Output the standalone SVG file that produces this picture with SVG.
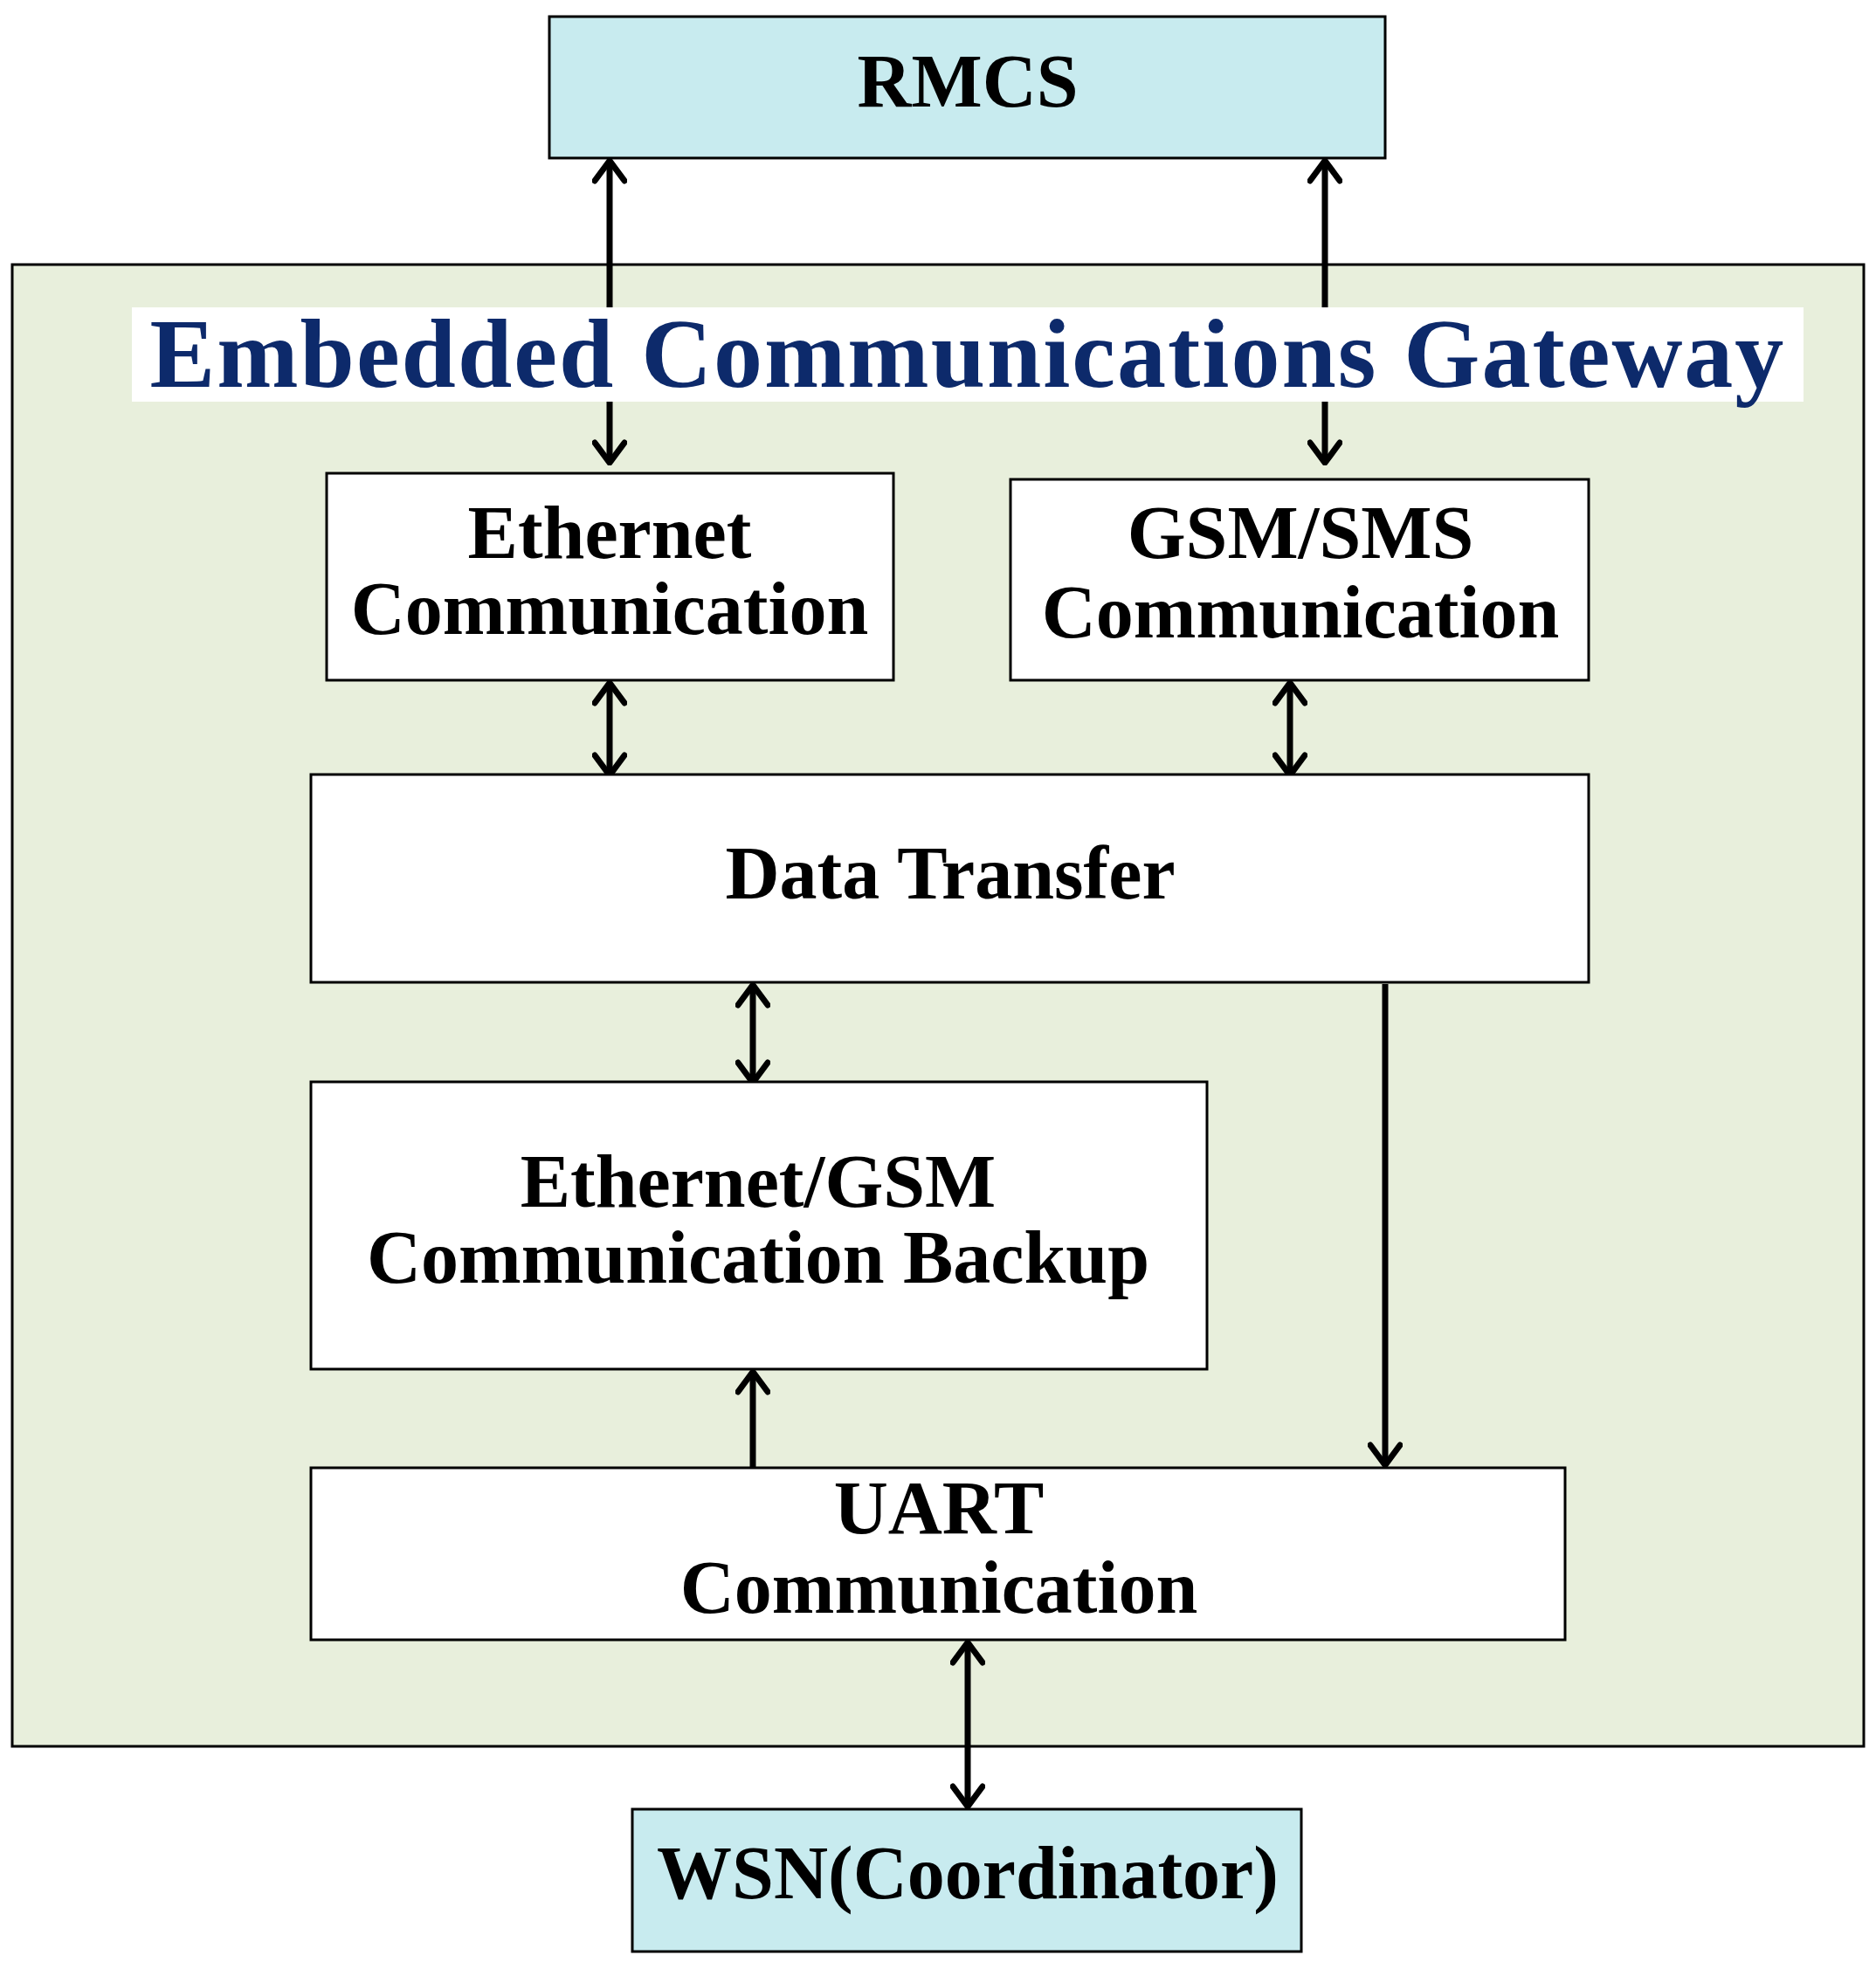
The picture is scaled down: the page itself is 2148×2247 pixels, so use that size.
<svg xmlns="http://www.w3.org/2000/svg" width="2148" height="2247" viewBox="0 0 2148 2247">
<style>
.box{fill:#fff;stroke:#000;stroke-width:3}
.blue{fill:#c8ebef;stroke:#000;stroke-width:3}
.t{font-family:"Liberation Serif",serif;font-weight:bold;font-size:86px;text-anchor:middle;fill:#000}
.c{stroke:#000;stroke-width:7;fill:none}
</style>
<defs>
<marker id="a" viewBox="0 0 30 40" refX="27" refY="20" markerWidth="30" markerHeight="40" markerUnits="userSpaceOnUse" orient="auto-start-reverse">
<polyline points="4,3 27,20 4,37" fill="none" stroke="#000" stroke-width="7" stroke-linecap="round" stroke-linejoin="round"/>
</marker>
</defs>
<rect width="2148" height="2247" fill="#fff"/>
<rect x="14" y="303" width="2120" height="1697" fill="#e8efdc" stroke="#000" stroke-width="3"/>
<g id="connectors">
<line class="c" x1="698" y1="184" x2="698" y2="530" marker-start="url(#a)" marker-end="url(#a)"/>
<line class="c" x1="1517" y1="184" x2="1517" y2="530" marker-start="url(#a)" marker-end="url(#a)"/>
<line class="c" x1="698" y1="782" x2="698" y2="888" marker-start="url(#a)" marker-end="url(#a)"/>
<line class="c" x1="1477" y1="782" x2="1477" y2="888" marker-start="url(#a)" marker-end="url(#a)"/>
<line class="c" x1="862" y1="1128" x2="862" y2="1240" marker-start="url(#a)" marker-end="url(#a)"/>
<line class="c" x1="862" y1="1681" x2="862" y2="1571" marker-end="url(#a)"/>
<line class="c" x1="1586" y1="1127" x2="1586" y2="1678" marker-end="url(#a)"/>
<line class="c" x1="1108" y1="1881" x2="1108" y2="2069" marker-start="url(#a)" marker-end="url(#a)"/>
</g>
<g id="title">
<rect x="151" y="352" width="1914" height="108" fill="#fff"/>
<text x="1108" y="443" font-family="Liberation Serif,serif" font-weight="bold" font-size="112" letter-spacing="2" text-anchor="middle" fill="#0d2a6b">Embedded Communications Gateway</text>
</g>
<g id="rmcs"><rect class="blue" x="629" y="19" width="957" height="162"/><text class="t" x="1108" y="122">RMCS</text></g>
<g id="ethernet"><rect class="box" x="374" y="542" width="649" height="237"/><text class="t" x="698" y="639">Ethernet</text><text class="t" x="698" y="726">Communication</text></g>
<g id="gsm"><rect class="box" x="1157" y="549" width="662" height="230"/><text class="t" x="1489" y="639">GSM/SMS</text><text class="t" x="1489" y="730">Communication</text></g>
<g id="datatransfer"><rect class="box" x="356" y="887" width="1463" height="238"/><text class="t" x="1088" y="1029">Data Transfer</text></g>
<g id="backup"><rect class="box" x="356" y="1239" width="1026" height="329"/><text class="t" x="868" y="1382">Ethernet/GSM</text><text class="t" x="868" y="1469">Communication Backup</text></g>
<g id="uart"><rect class="box" x="356" y="1681" width="1436" height="197"/><text class="t" x="1075" y="1756">UART</text><text class="t" x="1075" y="1847">Communication</text></g>
<g id="wsn"><rect class="blue" x="724" y="2072" width="766" height="163"/><text class="t" x="1108" y="2174">WSN(Coordinator)</text></g>
</svg>
